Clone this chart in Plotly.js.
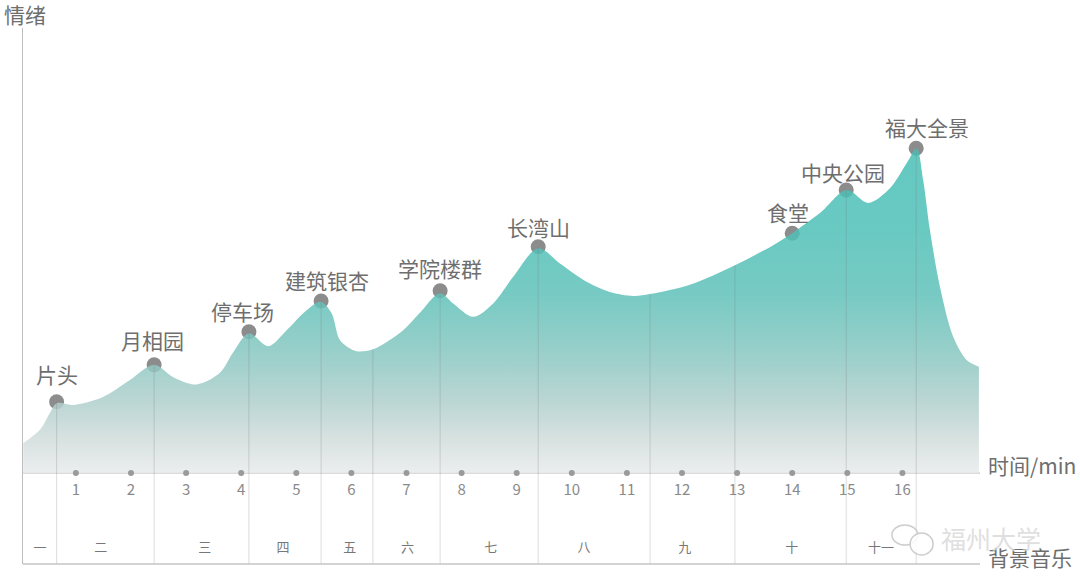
<!DOCTYPE html>
<html><head><meta charset="utf-8">
<script src="https://cdn.plot.ly/plotly-3.0.1.min.js"></script>
<style>html,body{margin:0;padding:0;background:#fff;} #chart{width:1080px;height:588px;}</style>
</head><body><div id="chart"></div>
<script>
// ---- data ----
const curveX = [0.044,0.347,0.528,0.650,0.946,1.490,1.980,2.421,2.760,3.191,3.613,3.849,4.140,4.490,4.824,5.187,5.446,5.641,5.791,6.033,6.154,6.396,6.940,7.243,7.606,7.847,8.210,8.573,8.936,9.390,9.784,10.269,10.691,11.114,11.417,12.143,12.960,13.655,14.000,14.503,14.987,15.379,15.773,16.076,16.257,16.377,16.499,16.680,16.922,17.165,17.388];
const curveY = [6.7,9.7,13.5,15.7,15.3,17.1,20.9,24.3,21.6,19.9,22.5,27.0,31.4,28.5,32.1,36.6,38.5,35.9,29.9,27.6,27.3,27.8,32.1,36.0,40.4,38.1,35.1,38.1,44.1,50.5,47.1,43.0,40.7,39.8,40.2,42.3,46.7,51.2,53.9,58.4,63.6,60.7,64.0,69.6,73.0,65.8,54.6,41.9,30.6,25.4,23.9];

const eventNames = ['片头','月相园','停车场','建筑银杏','学院楼群','长湾山','食堂','中央公园','福大全景'];
const eventX = [0.65,2.42,4.14,5.45,7.61,9.39,14.00,14.98,16.25];
const eventY = [16.0,24.3,31.75,38.65,40.97,50.85,53.87,63.6,72.97];
const eventHasLine = [true,true,true,true,true,true,false,true,true];

const boundaryX = [6.39,11.42,12.96];
const boundaryY = [27.8,40.2,46.7];

const tickValues = [1,2,3,4,5,6,7,8,9,10,11,12,13,14,15,16];
const tickLabels = ['1','2','3','4','5','6','7','8','9','10','11','12','13','14','15','16'];

const musicLabels = ['一','二','三','四','五','六','七','八','九','十','十一'];
const musicX = [0.35,1.45,3.34,4.76,5.97,7.02,8.53,10.22,12.05,13.99,15.61];

// ---- styling / layout ----
const FONT = "'Noto Sans CJK SC','Noto Sans',sans-serif";
const Y_MIN = -20.45, Y_MAX = 100;

// vertical separator lines
const vx = [], vy = [];
eventX.forEach((x,i)=>{ if(eventHasLine[i]){ vx.push(x,x,null); vy.push(Y_MIN,eventY[i],null);} });
boundaryX.forEach((x,i)=>{ vx.push(x,x,null); vy.push(Y_MIN,boundaryY[i],null); });

const traces = [
  { // event dots (under the area so the fill tints them)
    x: eventX, y: eventY, mode:'markers', type:'scatter',
    marker:{size:15,color:'rgb(140,140,140)'}, hoverinfo:'skip', cliponaxis:false
  },
  { // emotion area
    x: curveX, y: curveY, mode:'lines', type:'scatter', fill:'tozeroy',
    line:{shape:'spline', smoothing:0.9, width:0, color:'rgba(0,0,0,0)'},
    fillgradient:{type:'vertical', start:0, stop:73,
      colorscale:[[0,'rgba(233,235,235,0.85)'],[0.1,'rgba(209,221,220,0.85)'],[0.22,'rgba(175,207,204,0.85)'],
                  [0.38,'rgba(133,198,192,0.85)'],[0.55,'rgba(95,193,185,0.85)'],[0.75,'rgba(78,192,183,0.85)'],[1,'rgba(72,191,182,0.85)']]},
    hoverinfo:'skip'
  },
  { // separators
    x: vx, y: vy, mode:'lines', type:'scatter',
    line:{color:'rgba(120,120,120,0.26)', width:1}, hoverinfo:'skip', cliponaxis:false
  },
  { // tick dots
    x: tickValues, y: tickValues.map(()=>0), mode:'markers', type:'scatter',
    marker:{size:6,color:'#9a9a9a'}, hoverinfo:'skip', cliponaxis:false
  },
  { // background-music section labels
    x: musicX, y: musicX.map(()=>-17.1), mode:'text', type:'scatter',
    text: musicLabels, textposition:'middle center',
    textfont:{family:FONT,size:13,color:'#777'}, hoverinfo:'skip', cliponaxis:false
  }
];

const dy = [28,25,21,21,23,20,21,18,21];
const dxs = [0,-2,-6,6,0,0,-4,-3,11];
const annotations = eventNames.map((t,i)=>({
  x: eventX[i], y: eventY[i], xref:'x', yref:'y', text:t, showarrow:false,
  xanchor:'center', yanchor:'middle', yshift:dy[i], xshift:dxs[i],
  font:{family:FONT,size:21,color:'#6e6e6e'}
}));
annotations.push(
  {xref:'paper',yref:'paper',x:0.002,y:1.026,text:'情绪',showarrow:false,xanchor:'center',yanchor:'middle',font:{family:FONT,size:21,color:'#6e6e6e'}},
  {xref:'paper',yref:'paper',x:1.0063,y:0.1847,text:'时间/min',showarrow:false,xanchor:'left',yanchor:'middle',font:{family:FONT,size:21,color:'#6e6e6e'}},
  {xref:'paper',yref:'paper',x:1.0063,y:0.013,text:'背景音乐',showarrow:false,xanchor:'left',yanchor:'middle',font:{family:FONT,size:21,color:'#6e6e6e'}},
  {xref:'paper',yref:'paper',x:1.0115,y:0.0485,text:'福州大学',showarrow:false,xanchor:'center',yanchor:'middle',font:{family:FONT,size:25,color:'rgba(215,215,215,0.8)'}}
);

const layout = {
  width:1080, height:588,
  margin:{l:23,r:100,t:28,b:24,pad:0},
  paper_bgcolor:'#fff', plot_bgcolor:'#fff',
  showlegend:false, hovermode:false,
  font:{family:FONT},
  xaxis:{range:[0.04,17.408], anchor:'free', position:0.16978, showline:true, linecolor:'#dcdcdc', linewidth:2,
         showgrid:false, zeroline:false, tickvals:tickValues, ticktext:tickLabels, ticks:'',
         tickfont:{family:FONT,size:15,color:'#8a8a8a'}, ticklabelstandoff:3, layer:'below traces', fixedrange:true},
  yaxis:{range:[Y_MIN,Y_MAX], showline:true, linecolor:'#bdbdbd', linewidth:1, showgrid:false, zeroline:false,
         showticklabels:false, ticks:'', fixedrange:true},
  shapes:[
    {type:'line', xref:'paper', yref:'paper', x0:0, x1:1, y0:0, y1:0, line:{color:'#c4c4c4', width:1.5}},
    {type:'circle', xref:'paper', yref:'paper', x0:0.908, x1:0.935, y0:0.0354, y1:0.0728, fillcolor:'rgba(255,255,255,0.6)', line:{color:'rgba(200,200,200,0.9)', width:1.5}},
    {type:'circle', xref:'paper', yref:'paper', x0:0.927, x1:0.951, y0:0.0168, y1:0.0578, fillcolor:'rgba(255,255,255,0.85)', line:{color:'rgba(200,200,200,0.9)', width:1.5}}
  ],
  annotations: annotations
};

Plotly.newPlot('chart', traces, layout, {displayModeBar:false, staticPlot:true});
</script>
</body></html>
